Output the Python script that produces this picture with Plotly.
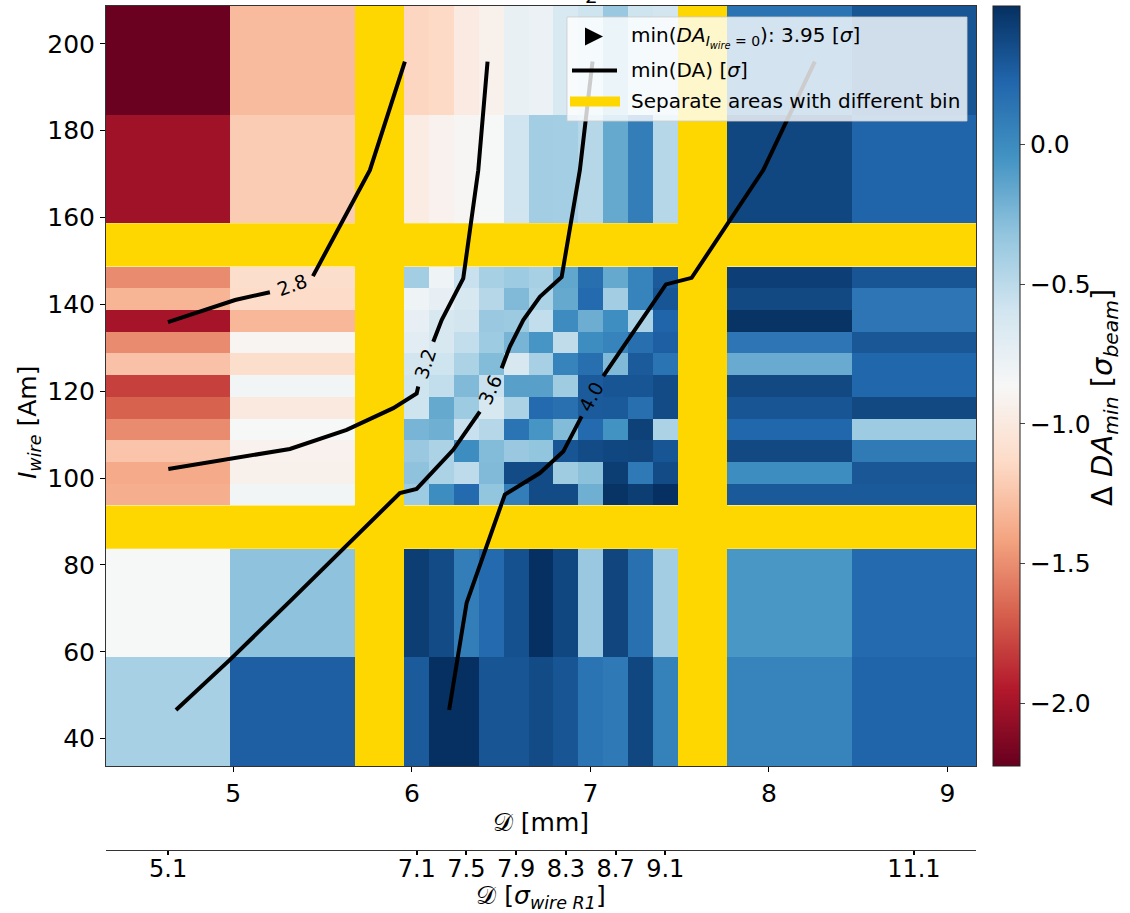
import plotly.graph_objects as go

# ---------------- data ----------------
# grid cell edges (sigma units on x, A*m on y); yellow gaps separate regions with different bins
sigma_edges = [4.6, 5.6, 6.6, 7.0, 7.2, 7.4, 7.6, 7.8, 8.0, 8.2, 8.4, 8.6, 8.8, 9.0, 9.2, 9.6, 10.6, 11.6]
current_edges = [33.7, 58.7, 83.7, 93.7, 98.7, 103.7, 108.7, 113.7, 118.7, 123.7, 128.7,
                 133.7, 138.7, 143.7, 148.7, 158.7, 183.7, 208.7]
gap_sigma = [(6.6, 7.0), (9.2, 9.6)]
gap_current = [(83.7, 93.7), (148.7, 158.7)]

# conversion sigma_wire_R1 -> mm
MM_PER_SIGMA = 0.6961
MM_OFFSET = 1.085

# Delta DA_min values, rows from low to high I_wire, columns from low to high D
delta_da = [
    [-0.41, 0.26, 0.28, 0.50, 0.50, 0.31, 0.31, 0.36, 0.31, 0.14, 0.11, 0.38, 0.06, 0.05, 0.23],
    [-0.86, -0.31, 0.43, 0.36, 0.08, 0.20, 0.33, 0.50, 0.38, -0.35, 0.39, 0.16, -0.39, -0.07, 0.20],
    [-1.36, -0.83, -0.37, -0.01, 0.20, -0.32, 0.08, 0.36, 0.36, -0.20, 0.48, 0.43, 0.50, 0.29, 0.29],
    [-1.38, -0.93, -0.31, -0.43, -0.51, -0.26, 0.36, 0.36, -0.38, -0.30, 0.43, 0.11, 0.36, -0.01, 0.30],
    [-1.25, -0.92, -0.35, -0.43, -0.01, -0.27, -0.35, -0.32, 0.31, 0.36, 0.38, 0.39, 0.31, 0.37, 0.10],
    [-1.51, -0.86, -0.23, -0.20, -0.56, -0.47, 0.14, -0.06, -0.27, 0.20, -0.04, 0.41, -0.43, 0.22, -0.37],
    [-1.67, -1.00, -0.58, -0.17, -0.37, -0.64, -0.43, 0.20, 0.16, 0.28, 0.29, 0.17, 0.36, 0.31, 0.37],
    [-1.80, -0.83, -0.58, -0.53, -0.26, -0.56, -0.12, -0.12, -0.38, 0.28, 0.31, 0.31, 0.36, 0.37, 0.22],
    [-1.26, -1.11, -0.61, -0.58, -0.43, -0.27, -0.64, -0.41, 0.05, 0.17, -0.26, 0.28, 0.14, -0.18, 0.22],
    [-1.51, -0.89, -0.71, -0.64, -0.53, -0.37, -0.23, -0.06, -0.52, -0.01, 0.05, 0.17, 0.26, 0.13, 0.30],
    [-2.00, -1.32, -0.75, -0.64, -0.61, -0.35, -0.36, -0.53, 0.00, -0.19, -0.02, -0.43, 0.23, 0.48, 0.13],
    [-1.33, -1.12, -0.80, -0.75, -0.64, -0.47, -0.26, -0.43, -0.17, 0.20, -0.39, 0.05, 0.31, 0.37, 0.13],
    [-1.51, -1.11, -0.39, -0.80, -0.56, -0.41, -0.37, -0.41, -0.15, 0.17, -0.17, 0.05, 0.28, 0.42, 0.31],
    [-2.02, -1.21, -0.98, -0.92, -0.88, -0.86, -0.59, -0.39, -0.40, -0.47, -0.17, 0.08, -0.47, 0.38, 0.23],
    [-2.21, -1.30, -1.16, -1.14, -0.99, -0.93, -0.76, -0.78, -0.65, -0.58, -0.35, -0.58, -0.61, 0.14, 0.31],
]
z_min, z_max = -2.224, 0.495

# min(DA) contour lines (x in mm, y in A*m); None = break for the inline label
contour_levels = [2.8, 3.2, 3.6, 4.0]
contour_x = [
    [5.961, 5.765, 5.446, None, 5.205, 5.010, 4.634],
    [6.424, 6.372, 6.288, 6.167, 6.120, None, 6.036, 6.027, 5.896, 5.635, 5.317, 4.636],
    [7.012, 6.941, 6.839, 6.717, 6.624, 6.549, 6.503, None, 6.381, 6.232, 6.027, 5.933, 5.327, 4.982, 4.679],
    [8.257, 7.968, 7.567, 7.423, 7.072, None, 6.951, 6.848, 6.717, 6.521, 6.307, 6.209],
]
contour_y = [
    [195.9, 170.9, 146.5, None, 142.8, 141.0, 135.9],
    [195.9, 170.9, 146.0, 136.4, 131.4, None, 121.1, 119.5, 116.1, 111.1, 106.7, 102.1],
    [195.9, 170.9, 146.3, 141.75, 136.4, 130.3, 125.3, None, 115.3, 106.5, 97.5, 96.55, 72.0, 58.2, 46.6],
    [195.9, 170.9, 146.1, 144.6, 123.5, None, 114.2, 106.1, 101.15, 96.2, 71.3, 46.6],
]
label_x = [5.327, 6.073, 6.437, 7.002]
label_y = [144.4, 126.3, 120.3, 118.7]
label_angle = [-20, -72, -66, -62]

min_da_no_wire = 3.95

x_tick_mm = [5, 6, 7, 8, 9]
y_ticks = [40, 60, 80, 100, 120, 140, 160, 180, 200]
sigma_ticks = [5.1, 7.1, 7.5, 7.9, 8.3, 8.7, 9.1, 11.1]
cbar_ticks = [-2.0, -1.5, -1.0, -0.5, 0.0]

legend_labels = [
    f'min(<i>DA</i><sub><i>I</i><sub><i>wire</i></sub> = 0</sub>): {min_da_no_wire:.2f} [<i>σ</i>]',
    'min(DA) [<i>σ</i>]',
    'Separate areas with different bin',
]

RDBU = ['#67001f', '#b2182b', '#d6604d', '#f4a582', '#fddbc7', '#f7f7f7',
        '#d1e5f0', '#92c5de', '#4393c3', '#2166ac', '#053061']
GOLD = '#ffd700'
FONT = 'DejaVu Sans'

# ---------------- layout geometry (pixels) ----------------
W, H = 1130, 913
ML, MR, MT, MB = 106, 154, 6, 63
PW, PH = W - ML - MR, H - MT - MB


def px(xp):
    return (xp - ML) / PW


def py(yp):
    return (H - MB - yp) / PH


# ---------------- build ----------------
def to_mm(s):
    return MM_OFFSET + MM_PER_SIGMA * s


x_edges_mm = [to_mm(s) for s in sigma_edges]
col_is_gap = [(sigma_edges[i], sigma_edges[i + 1]) in gap_sigma for i in range(len(sigma_edges) - 1)]
row_is_gap = [(current_edges[i], current_edges[i + 1]) in gap_current for i in range(len(current_edges) - 1)]

z_full = []
data_rows = iter(delta_da)
for gap_row in row_is_gap:
    if gap_row:
        z_full.append([None] * len(col_is_gap))
        continue
    vals = iter(next(data_rows))
    z_full.append([None if g else next(vals) for g in col_is_gap])

fig = go.Figure()

fig.add_trace(go.Heatmap(
    x=x_edges_mm, y=current_edges, z=z_full,
    colorscale=[[i / (len(RDBU) - 1), c] for i, c in enumerate(RDBU)],
    zmin=z_min, zmax=z_max, hoverongaps=False, showscale=True,
    colorbar=dict(
        x=px(993), xanchor='left', xpad=0, y=1, yanchor='top', ypad=0,
        lenmode='pixels', len=760, thickness=27,
        outlinewidth=1, outlinecolor='#222',
        tickvals=cbar_ticks, tickformat='.1f', ticks='outside', ticklen=5,
        tickfont=dict(family=FONT, size=25, color='black'),
    ),
    showlegend=False,
))

for k, lvl in enumerate(contour_levels):
    fig.add_trace(go.Scatter(
        x=contour_x[k], y=contour_y[k], mode='lines',
        line=dict(color='black', width=4),
        showlegend=False, connectgaps=False, hoverinfo='skip',
    ))
    fig.add_annotation(x=label_x[k], y=label_y[k], text=f'{lvl:.1f}', showarrow=False,
                       xanchor='center', yanchor='middle',
                       textangle=label_angle[k], font=dict(family=FONT, size=19, color='black'))

# invisible trace for secondary x axis
sigma_tick_mm = [to_mm(s) for s in sigma_ticks]
fig.add_trace(go.Scatter(x=sigma_tick_mm, y=[None] * len(sigma_tick_mm), xaxis='x2', yaxis='y',
                         mode='markers', showlegend=False, hoverinfo='skip'))

# yellow separation bands
for s0, s1 in gap_sigma:
    fig.add_shape(type='rect', xref='x', yref='y domain', x0=to_mm(s0), x1=to_mm(s1), y0=0, y1=1,
                  fillcolor=GOLD, line_width=0, layer='below')
for c0, c1 in gap_current:
    fig.add_shape(type='rect', xref='x domain', yref='y', x0=0, x1=1, y0=c0, y1=c1,
                  fillcolor=GOLD, line_width=0, layer='below')

# ---- legend box (drawn by hand to match matplotlib's layout) ----
fig.add_shape(type='rect', xref='paper', yref='paper', x0=px(567), x1=px(967), y0=py(121), y1=py(17),
              fillcolor='rgba(255,255,255,0.8)', line=dict(color='rgba(204,204,204,0.8)', width=1),
              layer='above')
fig.add_shape(type='path', xref='paper', yref='paper',
              path=f'M {px(585)},{py(27.5)} L {px(603)},{py(36.5)} L {px(585)},{py(45.5)} Z',
              fillcolor='black', line_width=0, layer='above')
fig.add_shape(type='line', xref='paper', yref='paper', x0=px(572), x1=px(617), y0=py(70.5), y1=py(70.5),
              line=dict(color='black', width=4), layer='above')
fig.add_shape(type='line', xref='paper', yref='paper', x0=px(570), x1=px(620), y0=py(101.5), y1=py(101.5),
              line=dict(color=GOLD, width=10), layer='above')
for txt, yy in zip(legend_labels, [37, 70, 101]):
    fig.add_annotation(xref='paper', yref='paper', x=px(629), y=py(yy), text=txt, showarrow=False,
                       xanchor='left', yanchor='middle', font=dict(family=FONT, size=20, color='black'))

# colorbar title and y-axis title
fig.add_annotation(xref='paper', yref='paper', x=px(1104), y=py(398), showarrow=False, textangle=-90,
                   xanchor='center', yanchor='middle',
                   text='Δ <i>DA</i><sub><i>min</i></sub> [<i>σ</i><sub><i>beam</i></sub>]',
                   font=dict(family=FONT, size=29, color='black'))
fig.add_annotation(xref='paper', yref='paper', x=px(29), y=py(423), showarrow=False, textangle=-90,
                   xanchor='center', yanchor='middle',
                   text='<i>I</i><sub><i>wire</i></sub> [Am]',
                   font=dict(family=FONT, size=25, color='black'))
# bottom of the clipped figure title visible at the top edge
fig.add_annotation(xref='paper', yref='paper', x=px(591), y=py(-4), showarrow=False,
                   xanchor='center', yanchor='middle', text='2',
                   font=dict(family=FONT, size=20, color='black'))

x_range = [x_edges_mm[0], x_edges_mm[-1]]
tickfont = dict(family=FONT, size=25, color='black')

fig.update_layout(
    width=W, height=H,
    margin=dict(l=ML, r=MR, t=MT, b=MB),
    paper_bgcolor='white', plot_bgcolor='white',
    font=dict(family=FONT, color='black'),
    showlegend=False,
    xaxis=dict(range=x_range, domain=[0, 1], anchor='y', tickvals=x_tick_mm,
               ticks='outside', ticklen=5, tickcolor='black', tickfont=tickfont,
               showline=True, linecolor='#333', linewidth=1, mirror=True,
               showgrid=False, zeroline=False, automargin=False,
               title=dict(text='𝒟 [mm]', font=tickfont, standoff=4)),
    xaxis2=dict(range=x_range, overlaying='x', anchor='free', position=0, side='bottom',
                tickvals=sigma_tick_mm, ticktext=[f'{s:.1f}' for s in sigma_ticks],
                ticks='outside', ticklen=4, tickwidth=2, tickcolor='black', ticklabelstandoff=-7,
                tickfont=dict(family=FONT, size=24, color='black'),
                showline=True, linecolor='#333', linewidth=1,
                showgrid=False, zeroline=False, automargin=False,
                title=dict(text='𝒟 [<i>σ</i><sub><i>wire R1</i></sub>]', font=tickfont, standoff=14)),
    yaxis=dict(range=[current_edges[0], current_edges[-1]], domain=[(H - MB - 766) / PH, 1],
               anchor='x', tickvals=y_ticks, ticks='outside', ticklen=5, tickcolor='black', tickfont=tickfont,
               showline=True, linecolor='#333', linewidth=1, mirror=True,
               showgrid=False, zeroline=False, automargin=False),
)

fig.write_html('out.html')
